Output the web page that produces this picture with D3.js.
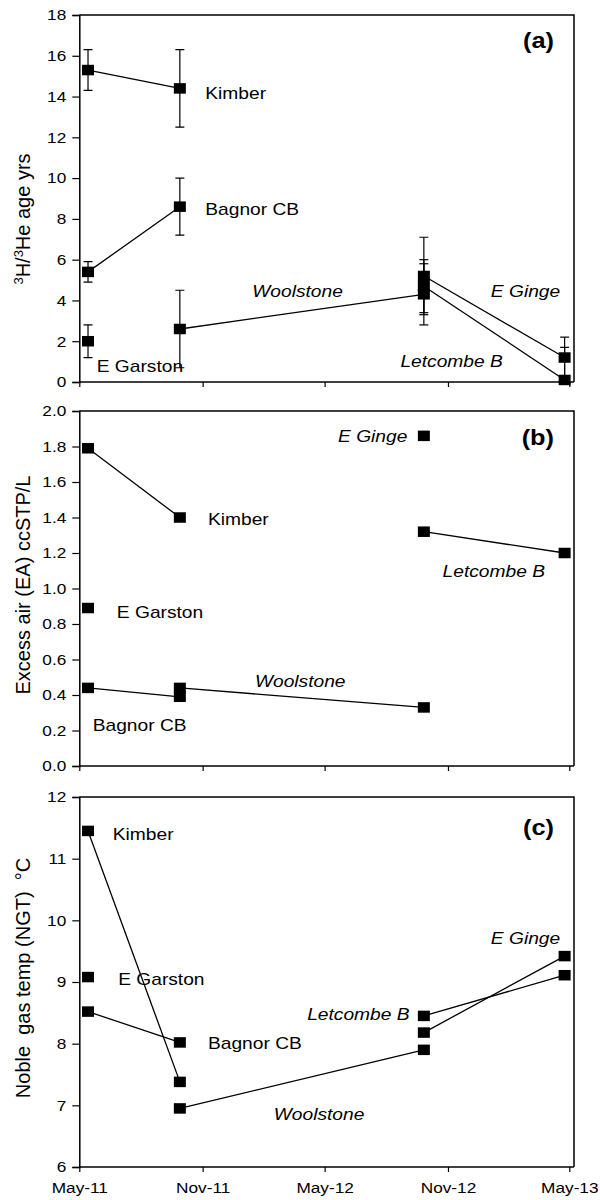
<!DOCTYPE html>
<html><head><meta charset="utf-8">
<script src="https://cdn.jsdelivr.net/npm/d3@7"></script>
<style>
body{margin:0;background:#fff}
text{font-family:"Liberation Sans",Arial,sans-serif;fill:#000}
</style>
</head><body>
<svg id="chart" width="600" height="1200"></svg>
<script>
// ---------------- data ----------------
const sampleDates = ["2011-05-14", "2011-09-28", "2012-09-26", "2013-04-24"];
const xTickDates = ["2011-05-01", "2011-11-01", "2012-05-01", "2012-11-01", "2013-05-01"];
const xTickLabels = ["May-11", "Nov-11", "May-12", "Nov-12", "May-13"];
const siteNames = ["Kimber", "Bagnor CB", "E Garston", "Woolstone", "E Ginge", "Letcombe B"];

// (a) 3H/3He age, years
const ageRounds = [[0, 1], [0, 1], [0], [1, 2], [2, 3], [2, 3]];
const ageValues = [[15.3, 14.4], [5.4, 8.6], [2.0], [2.6, 4.3], [5.2, 1.2], [4.7, 0.1]];
const ageErrors = [[1.0, 1.9], [0.5, 1.4], [0.8], [1.9, 1.5], [1.9, 1.0], [1.3, 1.6]];
const ageTicks = [0, 2, 4, 6, 8, 10, 12, 14, 16, 18];

// (b) excess air, ccSTP/L
const eaRounds = [[0, 1], [0, 1], [0], [1, 2], [2], [2, 3]];
const eaValues = [[1.79, 1.40], [0.44, 0.39], [0.89], [0.44, 0.33], [1.86], [1.32, 1.20]];
const eaTicks = [0, 0.2, 0.4, 0.6, 0.8, 1.0, 1.2, 1.4, 1.6, 1.8, 2.0];

// (c) noble gas temperature, °C
const ngtRounds = [[0, 1], [0, 1], [0], [1, 2], [2, 3], [2, 3]];
const ngtValues = [[11.45, 7.38], [8.52, 8.02], [9.08], [6.95, 7.90], [8.18, 9.42], [8.45, 9.11]];
const ngtTicks = [6, 7, 8, 9, 10, 11, 12];

// ---------------- layout ----------------
const parse = d3.timeParse("%Y-%m-%d");
const SX = 1.2; // horizontal stretch of the original picture
const svg = d3.select("#chart");
const left = 79.3, right = 574;
const x = d3.scaleTime().domain([parse("2011-05-01"), parse("2013-05-08")]).range([left, right]);

function stretchX(sel, s) {
  sel.each(function () {
    const t = d3.select(this);
    const x0 = +t.attr("x") || 0;
    t.attr("transform", `translate(${x0},0) scale(${s},1) translate(${-x0},0)`);
  });
}

const panels = [
  { key: "a", top: 15, bottom: 382, domain: [0, 18], ticks: ageTicks, fmt: d3.format("d"),
    rounds: ageRounds, values: ageValues, errors: ageErrors, titleY: 219,
    labels: [["Kimber", "2011-11-05", 13.88, false], ["Bagnor CB", "2011-11-05", 8.19, false],
             ["E Garston", "2011-05-27", 0.49, false], ["Woolstone", "2012-01-14", 4.17, true],
             ["E Ginge", "2013-01-04", 4.17, true], ["Letcombe B", "2012-08-22", 0.74, true]],
    letterY: 48 },
  { key: "b", top: 411, bottom: 766, domain: [0, 2], ticks: eaTicks, fmt: d3.format(".1f"),
    rounds: eaRounds, values: eaValues, errors: null, titleY: 585,
    title: "Excess air (EA) ccSTP/L",
    labels: [["E Ginge", "2012-05-21", 1.825, true], ["Kimber", "2011-11-09", 1.358, false],
             ["Letcombe B", "2012-10-24", 1.065, true], ["E Garston", "2011-06-26", 0.834, false],
             ["Woolstone", "2012-01-18", 0.445, true], ["Bagnor CB", "2011-05-21", 0.197, false]],
    letterY: 445 },
  { key: "c", top: 797, bottom: 1167, domain: [6, 12], ticks: ngtTicks, fmt: d3.format("d"),
    rounds: ngtRounds, values: ngtValues, errors: null, titleY: 978,
    title: "Noble  gas temp (NGT)  \u00B0C",
    labels: [["Kimber", "2011-06-20", 11.30, false], ["E Garston", "2011-06-28", 8.95, false],
             ["Bagnor CB", "2011-11-09", 7.91, false], ["Woolstone", "2012-02-15", 6.76, true],
             ["Letcombe B", "2012-04-05", 8.38, true], ["E Ginge", "2013-01-04", 9.62, true]],
    letterY: 835 }
];

panels.forEach((p, pi) => {
  const y = d3.scaleLinear().domain(p.domain).range([p.bottom, p.top]);
  const g = svg.append("g");

  g.append("clipPath").attr("id", "clip" + p.key)
    .append("rect").attr("x", left).attr("y", p.top).attr("width", right - left).attr("height", p.bottom - p.top);

  // frame (top & right)
  g.append("path").attr("d", `M${left},${p.top}H${right}V${p.bottom}`)
    .attr("fill", "none").attr("stroke", "#000").attr("stroke-width", 1.5);

  // y axis
  const ya = g.append("g").attr("transform", `translate(${left},0)`)
    .call(d3.axisLeft(y).tickValues(p.ticks).tickFormat(p.fmt).tickSize(7).tickPadding(6));
  ya.select(".domain").attr("stroke-width", 1.5);
  ya.selectAll(".tick line").attr("stroke-width", 1.2);
  ya.selectAll("text").style("font-size", "15px").call(stretchX, 1.15);

  // x axis
  const xa = g.append("g").attr("transform", `translate(0,${p.bottom})`)
    .call(d3.axisBottom(x).tickValues(xTickDates.map(parse)).tickSize(5).tickPadding(10)
      .tickFormat((d, i) => pi === 2 ? xTickLabels[i] : ""));
  xa.select(".domain").attr("stroke-width", 1.5).attr("d", `M${left},0H${right}`);
  xa.selectAll(".tick line").attr("stroke-width", 1.2);
  xa.selectAll("text").style("font-size", "15px").call(stretchX, 1.15);

  // y title
  const tt = g.append("text")
    .attr("transform", `translate(30,${p.titleY}) rotate(-90)`)
    .attr("text-anchor", "middle").style("font-size", "20px").style("white-space", "pre");
  if (p.key === "a") {
    tt.append("tspan").attr("dy", -7).style("font-size", "13px").text("3");
    tt.append("tspan").attr("dy", 7).text("H/");
    tt.append("tspan").attr("dy", -7).style("font-size", "13px").text("3");
    tt.append("tspan").attr("dy", 7).text("He age yrs");
  } else {
    tt.text(p.title);
  }

  const plot = g.append("g").attr("clip-path", `url(#clip${p.key})`);
  const line = d3.line().x(d => x(d.t)).y(d => y(d.v));

  const series = siteNames.map((s, si) => p.rounds[si].map((r, k) => ({
    t: parse(sampleDates[r]), v: p.values[si][k], e: p.errors ? p.errors[si][k] : 0
  })));

  // lines
  series.forEach(pts => {
    if (pts.length > 1)
      plot.append("path").attr("d", line(pts)).attr("fill", "none")
        .attr("stroke", "#000").attr("stroke-width", 1.3);
  });

  // error bars
  if (p.errors) {
    series.forEach(pts => pts.forEach(d => {
      const cx = x(d.t), y1 = y(d.v - d.e), y2 = y(d.v + d.e);
      plot.append("line").attr("x1", cx).attr("x2", cx).attr("y1", y1).attr("y2", y2)
        .attr("stroke", "#000").attr("stroke-width", 1.2);
      [y1, y2].forEach(yy => plot.append("line").attr("x1", cx - 4.5).attr("x2", cx + 4.5)
        .attr("y1", yy).attr("y2", yy).attr("stroke", "#000").attr("stroke-width", 1.2));
    }));
  }

  // squares
  series.forEach(pts => pts.forEach(d => {
    g.append("rect").attr("x", x(d.t) - 6).attr("y", y(d.v) - 5.25)
      .attr("width", 12).attr("height", 10.5).attr("fill", "#000");
  }));

  // site labels
  p.labels.forEach(([txt, dt, v, it]) => {
    g.append("text").attr("x", x(parse(dt))).attr("y", y(v))
      .style("font-size", "16px").style("font-style", it ? "italic" : "normal")
      .text(txt).call(stretchX, SX);
  });

  // panel letter
  g.append("text").attr("x", 554).attr("y", p.letterY).attr("text-anchor", "end")
    .style("font-size", "22px").style("font-weight", "bold").text(`(${p.key})`).call(stretchX, 1.15);
});
</script>
</body></html>
